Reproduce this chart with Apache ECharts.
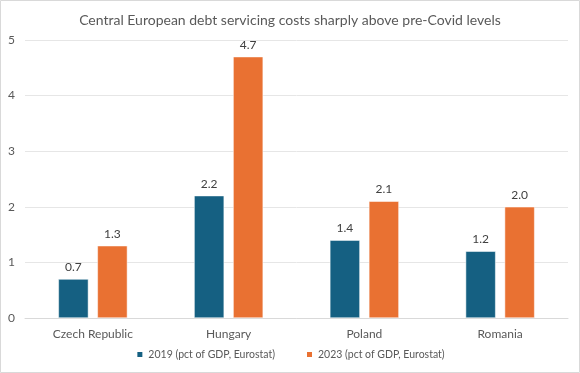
<!DOCTYPE html>
<html><head><meta charset="utf-8">
<script src="https://cdn.jsdelivr.net/npm/echarts@6/dist/echarts.min.js"></script>
<style>html,body{margin:0;padding:0;background:#fff}#c{width:580px;height:373px}</style>
</head><body><div id="c"></div>
<script>
const categories = ['Czech Republic', 'Hungary', 'Poland', 'Romania'];
const v2019 = [0.7, 2.2, 1.4, 1.2];
const v2023 = [1.3, 4.7, 2.1, 2.0];
const seriesNames = ['2019 (pct of GDP, Eurostat)', '2023 (pct of GDP, Eurostat)'];
const titleText = 'Central European debt servicing costs sharply above pre-Covid levels';

const chart = echarts.init(document.getElementById('c'), null, {renderer: 'canvas'});
const font = 'Lato, "Open Sans", sans-serif';
const lbl = {show: true, position: 'top', formatter: p => p.value.toFixed(1), color: '#404040', fontSize: 12, fontFamily: font, distance: 6};
chart.setOption({
  animation: false,
  graphic: [{type: 'rect', shape: {x: 0.5, y: 0.5, width: 579, height: 372}, style: {fill: 'none', stroke: '#d9d9d9', lineWidth: 1}, z: -1}],
  title: {text: titleText, left: 'center', top: 8, textStyle: {fontSize: 14, fontWeight: 'normal', color: '#595959', fontFamily: font}},
  legend: {bottom: 8, itemWidth: 7, itemHeight: 7, itemGap: 30, icon: 'rect',
    textStyle: {fontSize: 10.5, color: '#595959', fontFamily: font}},
  grid: {left: 25, right: 12, top: 40, bottom: 55, containLabel: false},
  xAxis: {type: 'category', data: categories,
    axisLine: {lineStyle: {color: '#d9d9d9'}}, axisTick: {show: false},
    axisLabel: {color: '#595959', fontSize: 12, fontFamily: font, margin: 10}},
  yAxis: {type: 'value', min: 0, max: 5, interval: 1,
    axisLabel: {color: '#595959', fontSize: 12, fontFamily: font, margin: 10},
    splitLine: {lineStyle: {color: '#e6e6e6'}}},
  series: [
    {name: seriesNames[0], type: 'bar', data: v2019, barWidth: 30, barGap: '30%',
     itemStyle: {color: '#156082', borderColor: '#fff', borderWidth: 0.5}, label: lbl},
    {name: seriesNames[1], type: 'bar', data: v2023, barWidth: 30,
     itemStyle: {color: '#E97132', borderColor: '#fff', borderWidth: 0.5}, label: lbl}
  ]
});
</script></body></html>
